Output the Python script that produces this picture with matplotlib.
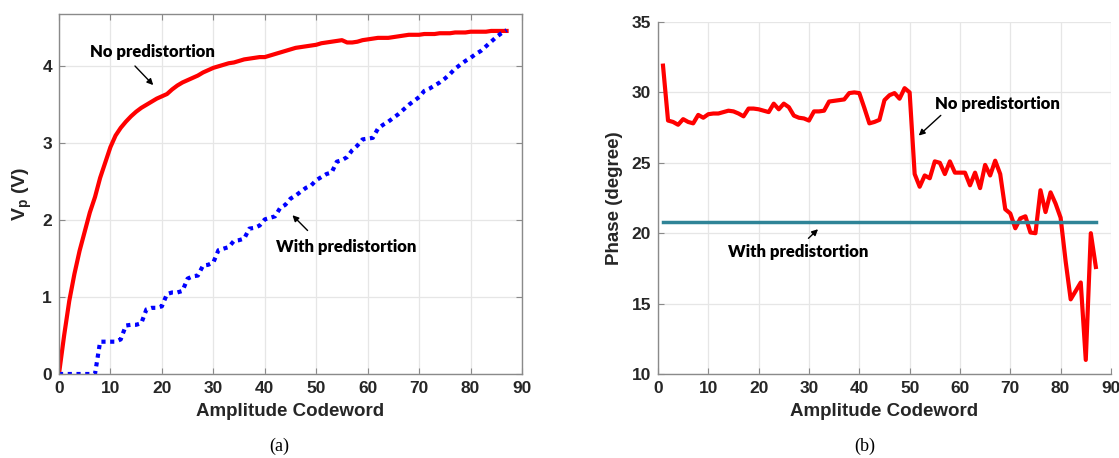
import numpy as np
import matplotlib.pyplot as plt

plt.rcParams['font.family'] = ['Liberation Sans', 'DejaVu Sans']
plt.rcParams['font.weight'] = 'bold'
plt.rcParams['axes.labelweight'] = 'bold'
plt.rcParams['mathtext.fontset'] = 'custom'
plt.rcParams['mathtext.rm'] = 'Liberation Sans'
plt.rcParams['mathtext.bf'] = 'Liberation Sans:bold'

# (a) output amplitude vs codeword
code_a = np.arange(0, 88)
vp_nopd = [0.00, 0.50, 0.95, 1.30, 1.60, 1.85, 2.10, 2.30, 2.55, 2.75,
           2.95, 3.10, 3.20, 3.28, 3.35, 3.41, 3.46, 3.50, 3.54, 3.58,
           3.61, 3.64, 3.70, 3.75, 3.79, 3.82, 3.85, 3.88, 3.92, 3.95,
           3.98, 4.00, 4.02, 4.04, 4.05, 4.07, 4.09, 4.10, 4.11, 4.12,
           4.12, 4.14, 4.16, 4.18, 4.20, 4.22, 4.24, 4.25, 4.26, 4.27,
           4.28, 4.30, 4.31, 4.32, 4.33, 4.34, 4.31, 4.31, 4.32, 4.34,
           4.35, 4.36, 4.37, 4.37, 4.37, 4.38, 4.39, 4.40, 4.41, 4.41,
           4.41, 4.42, 4.42, 4.42, 4.43, 4.43, 4.43, 4.44, 4.44, 4.44,
           4.45, 4.45, 4.45, 4.45, 4.46, 4.46, 4.46, 4.46]
vp_pd = [0.00, 0.00, 0.00, 0.00, 0.00, 0.00, 0.00, 0.00, 0.42, 0.42,
         0.42, 0.42, 0.45, 0.63, 0.64, 0.64, 0.66, 0.84, 0.86, 0.86,
         0.88, 1.04, 1.06, 1.06, 1.08, 1.24, 1.27, 1.28, 1.41, 1.42,
         1.45, 1.61, 1.63, 1.65, 1.73, 1.74, 1.76, 1.89, 1.90, 1.93,
         2.01, 2.03, 2.05, 2.16, 2.20, 2.28, 2.32, 2.37, 2.42, 2.45,
         2.52, 2.56, 2.60, 2.62, 2.76, 2.78, 2.82, 2.91, 2.97, 3.05,
         3.06, 3.07, 3.19, 3.24, 3.28, 3.33, 3.38, 3.44, 3.50, 3.55,
         3.60, 3.68, 3.71, 3.75, 3.79, 3.84, 3.90, 3.97, 4.02, 4.07,
         4.11, 4.16, 4.20, 4.26, 4.32, 4.38, 4.43, 4.47]

# (b) phase vs codeword
code_b = np.arange(1, 88)
phase_nopd = [31.9, 28.0, 27.9, 27.7, 28.1, 27.9, 27.8, 28.4, 28.2, 28.45,
              28.5, 28.5, 28.6, 28.7, 28.65, 28.5, 28.3, 28.85, 28.85, 28.8,
              28.7, 28.6, 29.2, 28.8, 29.2, 28.95, 28.35, 28.2, 28.15, 28.0,
              28.65, 28.65, 28.7, 29.35, 29.4, 29.45, 29.5, 29.95, 30.0, 29.95,
              28.9, 27.8, 27.9, 28.05, 29.45, 29.8, 29.95, 29.55, 30.3, 30.0,
              24.2, 23.3, 24.1, 23.9, 25.1, 25.0, 24.2, 25.1, 24.3, 24.3,
              24.3, 23.4, 24.3, 23.2, 24.85, 24.1, 25.15, 24.2, 21.7, 21.4,
              20.35, 21.05, 21.2, 20.05, 20.0, 23.05, 21.5, 22.9, 22.1, 21.1,
              18.0, 15.3, 15.9, 16.5, 11.0, 20.0, 17.6]
phase_pd = [20.8] * len(code_b)

fig = plt.figure(figsize=(11.19, 4.58), dpi=100)
ax1 = fig.add_axes([0.0527, 0.1834, 0.4138, 0.786])
ax2 = fig.add_axes([0.588, 0.1834, 0.4048, 0.7686])

spine_c = '#8a8a8a'
tick_c = '#262626'


def style_axes(ax, box):
    ax.grid(True, color='#e6e6e6', linewidth=0.9)
    ax.set_axisbelow(True)
    for s in ax.spines.values():
        s.set_color(spine_c)
        s.set_linewidth(1.0)
    if not box:
        ax.spines['top'].set_visible(False)
        ax.spines['right'].set_visible(False)
    ax.tick_params(direction='in', length=4, color=spine_c, labelcolor=tick_c,
                   labelsize=12.5, top=box, right=box, pad=5)


ann_font = dict(family=['Lato', 'DejaVu Sans'], fontweight='heavy', fontsize=12)
arrow = dict(arrowstyle='-|>', color='k', lw=1.0, mutation_scale=9)

# ---- (a)
ax1.plot(code_a, vp_nopd, color='red', linewidth=3.0)
ax1.plot(code_a, vp_pd, color='blue', linewidth=3.0, linestyle=(0, (1, 1.1)))
ax1.set_xlim(0, 90)
ax1.set_ylim(0, 4.68)
ax1.set_xticks(np.arange(0, 91, 10))
ax1.set_yticks([0, 1, 2, 3, 4])
style_axes(ax1, True)
ax1.set_xlabel('Amplitude Codeword', fontsize=13.5, color=tick_c, labelpad=5)
ax1.set_ylabel(r'$\mathbf{V_p}$ (V)', fontsize=14, color=tick_c, labelpad=6)
ax1.annotate('', xy=(18.7, 3.73), xytext=(14.4, 4.03), arrowprops=arrow)
ax1.text(18.1, 4.18, 'No predistortion', ha='center', va='center', **ann_font)
ax1.annotate('', xy=(45.0, 2.09), xytext=(48.7, 1.84), arrowprops=arrow)
ax1.text(55.8, 1.65, 'With predistortion', ha='center', va='center', **ann_font)

# ---- (b)
ax2.plot(code_b, phase_nopd, color='red', linewidth=3.0)
ax2.plot(code_b, phase_pd, color='#2f8497', linewidth=2.5)
ax2.set_xlim(0, 90)
ax2.set_ylim(10, 35)
ax2.set_xticks(np.arange(0, 91, 10))
ax2.set_yticks(np.arange(10, 36, 5))
style_axes(ax2, False)
ax2.set_xlabel('Amplitude Codeword', fontsize=13.5, color=tick_c, labelpad=5)
ax2.set_ylabel('Phase (degree)', fontsize=13.5, color=tick_c, labelpad=6)
ax2.annotate('', xy=(51.4, 26.8), xytext=(56.6, 28.5), arrowprops=arrow)
ax2.text(67.5, 29.15, 'No predistortion', ha='center', va='center', **ann_font)
ax2.annotate('', xy=(32.2, 20.42), xytext=(29.5, 19.5), arrowprops=arrow)
ax2.text(27.8, 18.69, 'With predistortion', ha='center', va='center', **ann_font)

# captions
fig.text(279 / 1119, 1 - 446 / 458, '(a)', family='Liberation Serif',
         fontweight='normal', fontsize=13, ha='center', va='center')
fig.text(864.5 / 1119, 1 - 446 / 458, '(b)', family='Liberation Serif',
         fontweight='normal', fontsize=13, ha='center', va='center')

fig.savefig('out.png', dpi=100)
